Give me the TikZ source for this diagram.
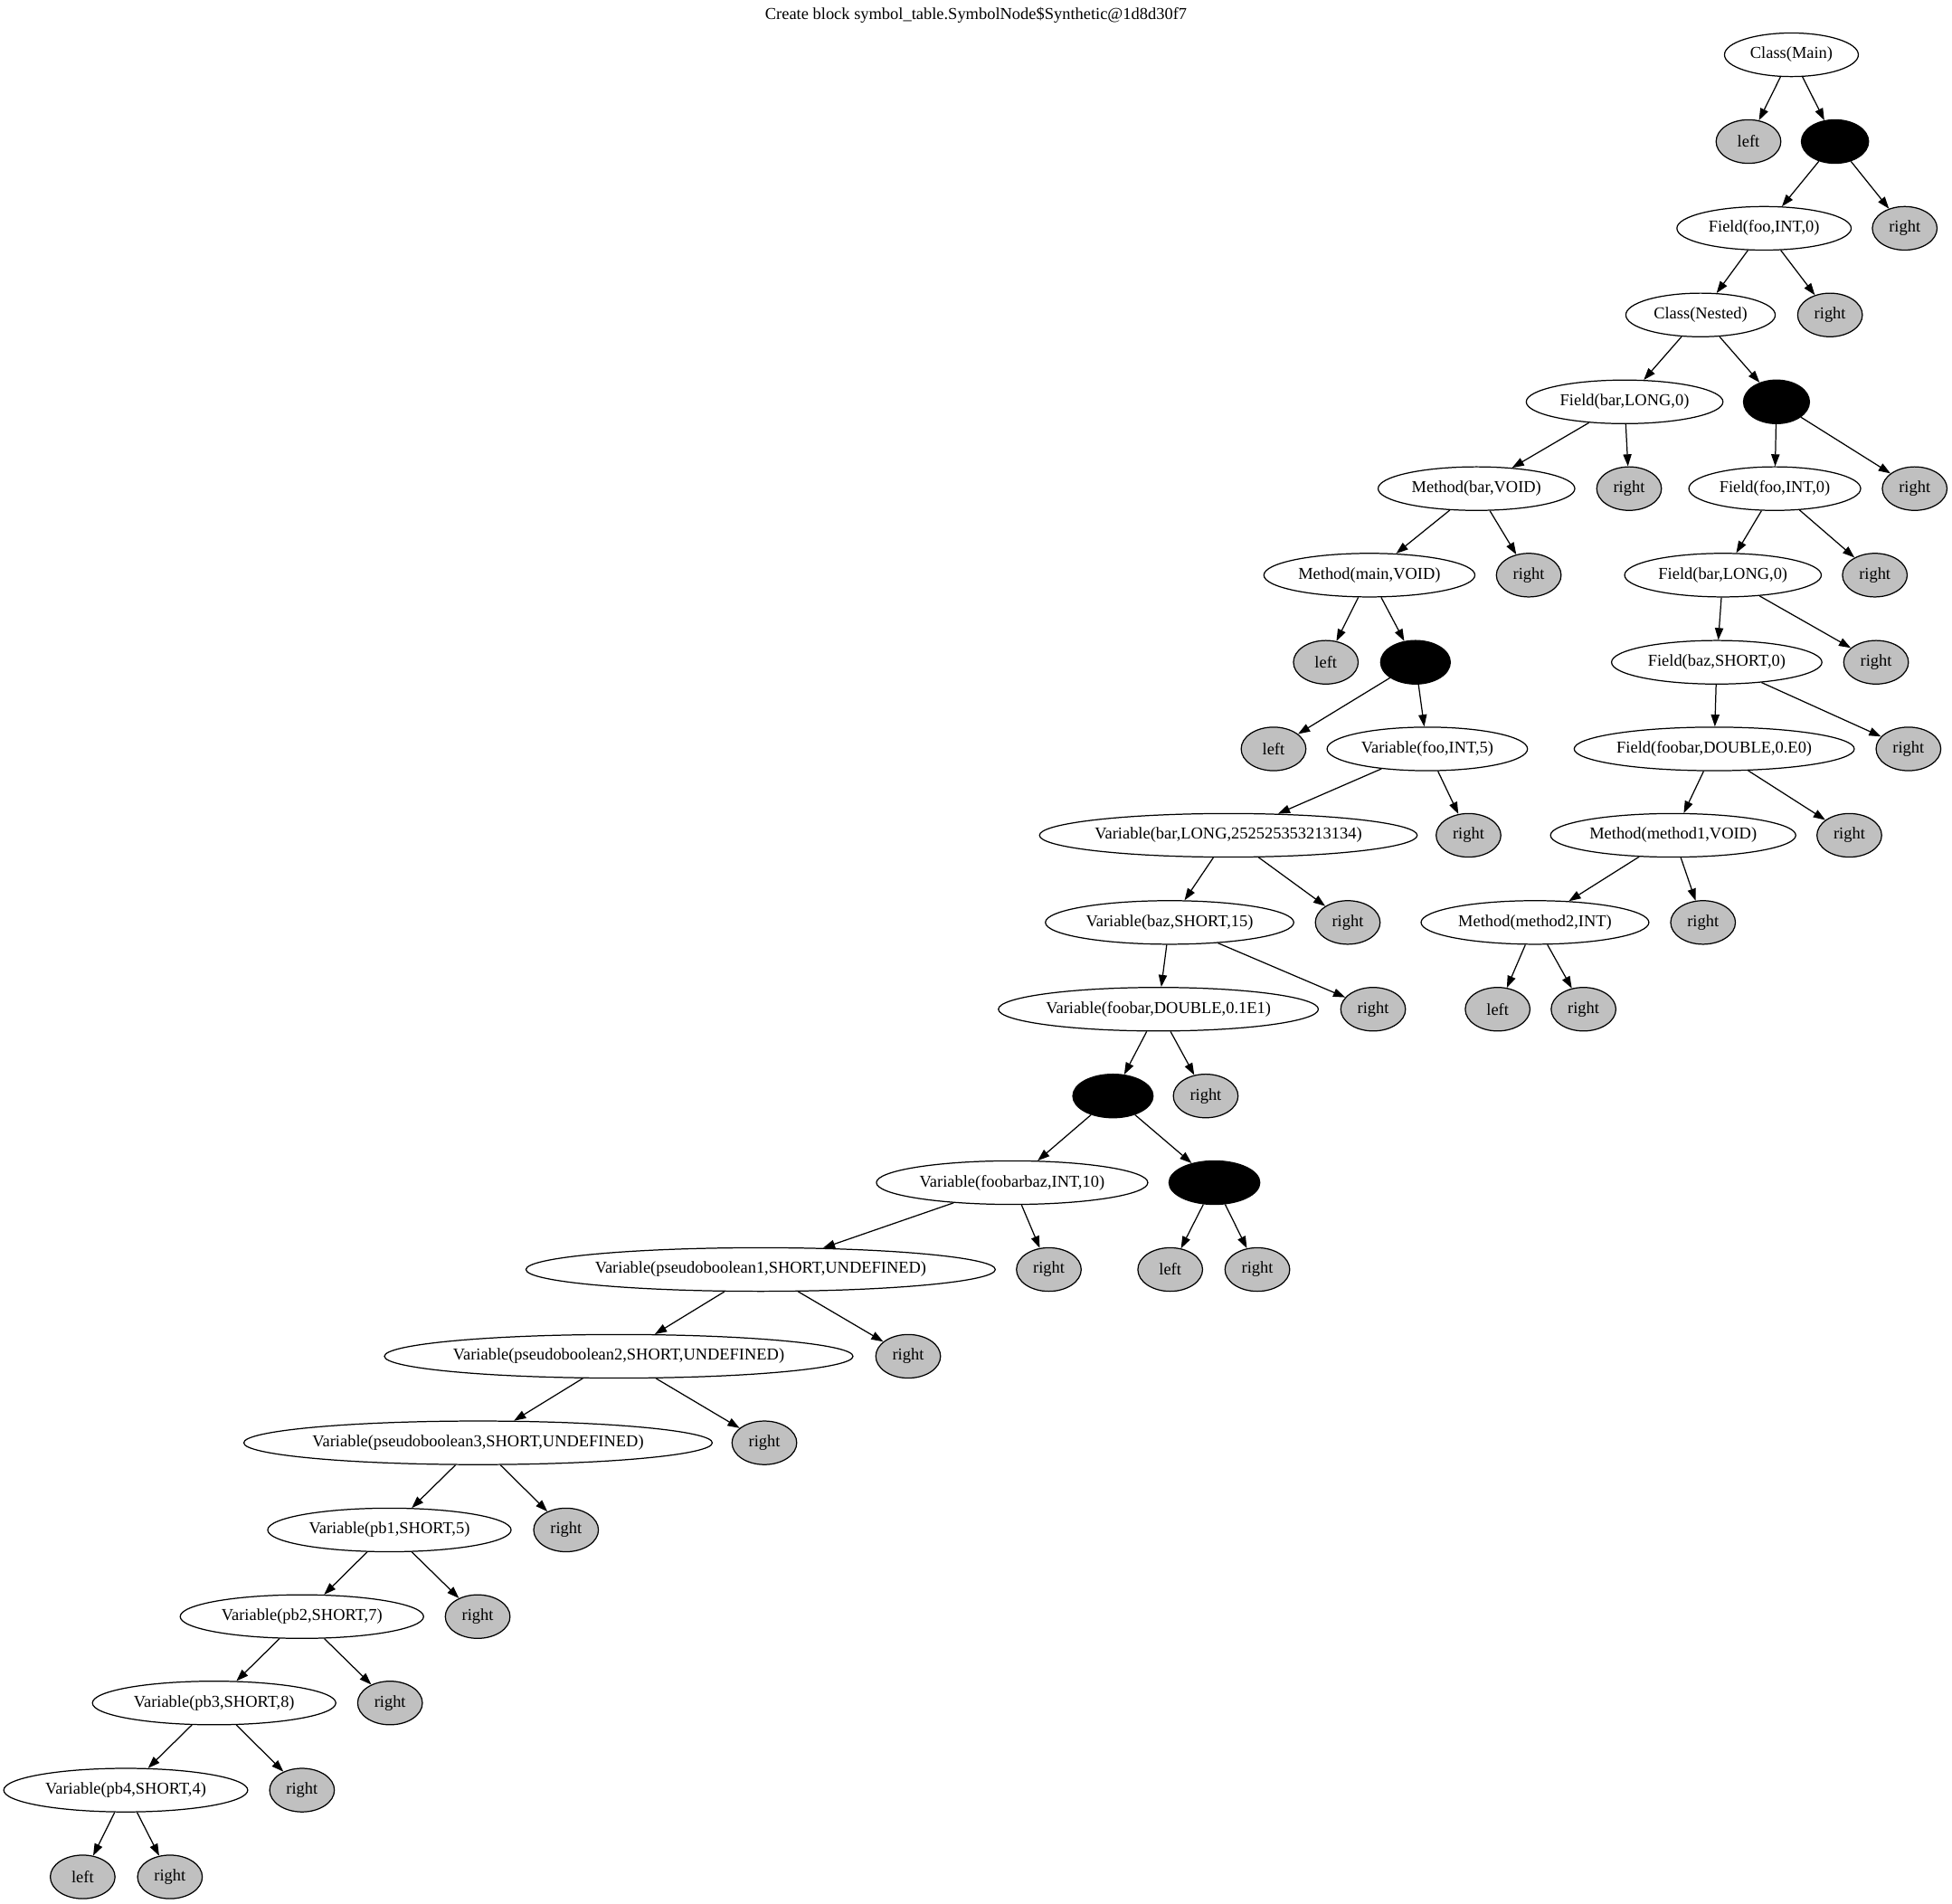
\documentclass[tikz,border=0pt]{standalone}
\usepackage{fontspec}
\setmainfont{Liberation Serif}
\usetikzlibrary{arrows.meta,shapes.geometric}
\begin{document}
\begin{tikzpicture}[x=1pt,y=-1pt,
  font=\fontsize{13.4}{16}\selectfont,
  base/.style={ellipse,draw=black,line width=0.9pt,inner sep=0pt,minimum height=35pt},
  sym/.style={base,fill=white,minimum width=#1},
  leaf/.style={base,fill=leafgray,minimum width=52pt},
  blk/.style={base,fill=black,minimum width=#1},
  edge/.style={draw=black,line width=0.9pt,-{Triangle[length=9.6pt,width=6.7pt]}}]
\definecolor{leafgray}{RGB}{192,192,192}
\useasboundingbox[fill=white] (0,0) rectangle (1568,1529);

\node (title) at (784,12.5) {Create block symbol\_table.SymbolNode\$Synthetic@1d8d30f7};

% outer class
\node[sym=107.5pt] (cmain) at (1439,44) {Class(Main)};
\node[leaf] (l1) at (1404.5,113.7) {left};
\node[blk=54pt] (b1) at (1474,113.7) {};
\node[sym=140pt] (ffooa) at (1417,183.4) {Field(foo,INT,0)};
\node[leaf] (r1) at (1530,183.4) {right};
\node[sym=120pt] (cnest) at (1366,253) {Class(Nested)};
\node[leaf] (r2) at (1470,253) {right};
\node[sym=158pt] (fbara) at (1305,322.8) {Field(bar,LONG,0)};
\node[blk=53pt] (b2) at (1427,322.8) {};
\node[sym=158pt] (mbar) at (1186,392.5) {Method(bar,VOID)};
\node[leaf] (r3) at (1308.6,392.5) {right};
\node[sym=138pt] (ffoob) at (1425.6,392.5) {Field(foo,INT,0)};
\node[leaf] (r4) at (1538,392.5) {right};
\node[sym=169.5pt] (mmain) at (1100,462) {Method(main,VOID)};
\node[leaf] (r5) at (1228,462) {right};
\node[sym=158pt] (fbarb) at (1384,462) {Field(bar,LONG,0)};
\node[leaf] (r6) at (1506,462) {right};
\node[leaf] (l2) at (1065,532) {left};
\node[blk=56pt] (b3) at (1137,532) {};
\node[sym=169pt] (fbaz) at (1379,532) {Field(baz,SHORT,0)};
\node[leaf] (r7) at (1507,532) {right};
\node[leaf] (l3) at (1023,601.6) {left};
\node[sym=161pt] (vfoo) at (1146.5,601.6) {Variable(foo,INT,5)};
\node[sym=225pt] (ffoobar) at (1377,601.6) {Field(foobar,DOUBLE,0.E0)};
\node[leaf] (r8) at (1533,601.6) {right};
\node[sym=299pt] (vbar) at (986.7,671) {Variable(bar,LONG,252525353213134)};
\node[leaf] (r9) at (1179.6,671) {right};
\node[sym=197pt] (mone) at (1344,671) {Method(method1,VOID)};
\node[leaf] (r10) at (1485.5,671) {right};
\node[sym=199.5pt] (vbaz) at (939.5,741) {Variable(baz,SHORT,15)};
\node[leaf] (r11) at (1082.6,741) {right};
\node[sym=183pt] (mtwo) at (1233,741) {Method(method2,INT)};
\node[leaf] (r12) at (1368,741) {right};
\node[sym=257pt] (vfoobar) at (930.5,810.7) {Variable(foobar,DOUBLE,0.1E1)};
\node[leaf] (r13) at (1103,810.7) {right};
\node[leaf] (l4) at (1203,810.7) {left};
\node[leaf] (r14) at (1272,810.7) {right};
\node[blk=64.5pt] (b4) at (894,880.4) {};
\node[leaf] (r15) at (968.5,880.4) {right};
\node[sym=218pt] (vfbz) at (813,950) {Variable(foobarbaz,INT,10)};
\node[blk=73pt] (b5) at (975.5,950) {};
\node[sym=377pt] (psa) at (611,1019.8) {Variable(pseudoboolean1,SHORT,UNDEFINED)};
\node[leaf] (r16) at (842.5,1019.8) {right};
\node[leaf] (l5) at (940,1019.8) {left};
\node[leaf] (r17) at (1010,1019.8) {right};
\node[sym=373pt] (psb) at (497,1089.5) {Variable(pseudoboolean2,SHORT,UNDEFINED)};
\node[leaf] (r18) at (729.5,1089.5) {right};
\node[sym=373pt] (psc) at (384,1159) {Variable(pseudoboolean3,SHORT,UNDEFINED)};
\node[leaf] (r19) at (614,1159) {right};
\node[sym=195.5pt] (pba) at (312.8,1229) {Variable(pb1,SHORT,5)};
\node[leaf] (r20) at (454.7,1229) {right};
\node[sym=195.5pt] (pbb) at (242.5,1298.6) {Variable(pb2,SHORT,7)};
\node[leaf] (r21) at (383.7,1298.6) {right};
\node[sym=195.5pt] (pbc) at (172,1368) {Variable(pb3,SHORT,8)};
\node[leaf] (r22) at (313.3,1368) {right};
\node[sym=196pt] (pbd) at (101,1438) {Variable(pb4,SHORT,4)};
\node[leaf] (r23) at (242.6,1438) {right};
\node[leaf] (l6) at (66.4,1507.7) {left};
\node[leaf] (r24) at (136.5,1507.7) {right};

% parent -> child links
\foreach \p/\c in {cmain/l1, cmain/b1, b1/ffooa, b1/r1, ffooa/cnest, ffooa/r2,
  cnest/fbara, cnest/b2, fbara/mbar, fbara/r3, b2/ffoob, b2/r4,
  mbar/mmain, mbar/r5, ffoob/fbarb, ffoob/r6, mmain/l2, mmain/b3,
  fbarb/fbaz, fbarb/r7, b3/l3, b3/vfoo, fbaz/ffoobar, fbaz/r8,
  vfoo/vbar, vfoo/r9, ffoobar/mone, ffoobar/r10, vbar/vbaz, vbar/r11,
  mone/mtwo, mone/r12, vbaz/vfoobar, vbaz/r13, mtwo/l4, mtwo/r14,
  vfoobar/b4, vfoobar/r15, b4/vfbz, b4/b5, vfbz/psa, vfbz/r16,
  b5/l5, b5/r17, psa/psb, psa/r18, psb/psc, psb/r19, psc/pba, psc/r20,
  pba/pbb, pba/r21, pbb/pbc, pbb/r22, pbc/pbd, pbc/r23, pbd/l6, pbd/r24}
  \draw[edge] (\p) -- (\c);
\end{tikzpicture}
\end{document}
